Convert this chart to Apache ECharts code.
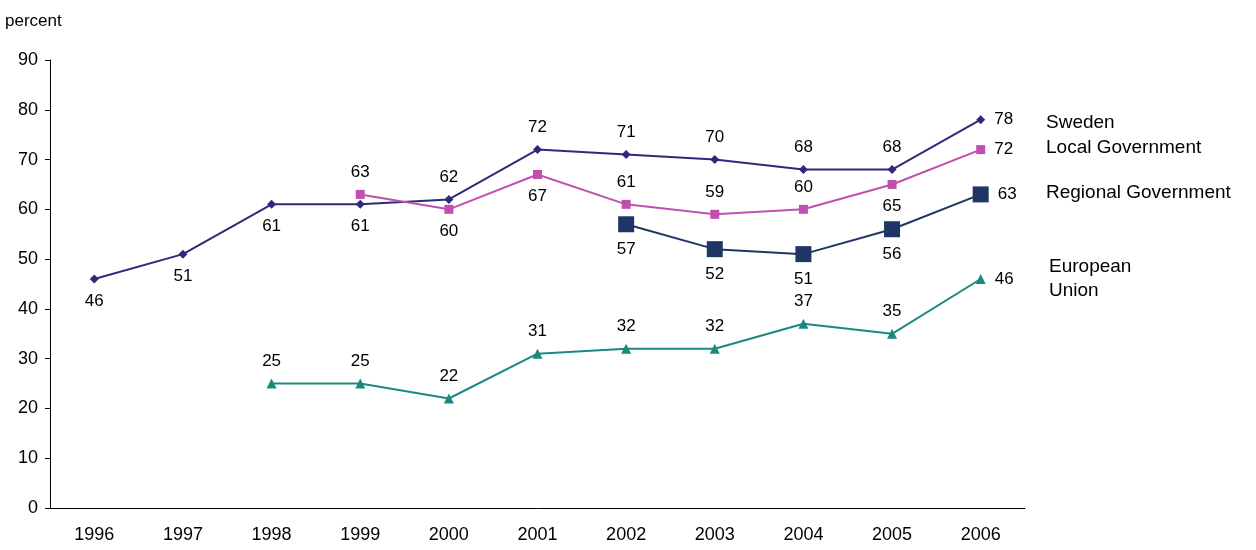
<!DOCTYPE html>
<html><head><meta charset="utf-8">
<script src="https://cdn.jsdelivr.net/npm/echarts@6/dist/echarts.min.js"></script>
<style>html,body{margin:0;background:#fff}#c{width:1256px;height:550px}</style>
</head><body><div id="c"></div>
<script>
var years = ['1996','1997','1998','1999','2000','2001','2002','2003','2004','2005','2006'];
var sweden = [46, 51, 61, 61, 62, 72, 71, 70, 68, 68, 78];
var local = [null, null, null, 63, 60, 67, 61, 59, 60, 65, 72];
var regional = [null, null, null, null, null, null, 57, 52, 51, 56, 63];
var eu = [null, null, 25, 25, 22, 31, 32, 32, 37, 35, 46];

var swedenPos = ['bottom','bottom','bottom','bottom','top','top','top','top','top','top','right'];
var localPos = [null,null,null,'top','bottom','bottom','top','top','top','bottom','right'];
var regionalPos = [null,null,null,null,null,null,'bottom','bottom','bottom','bottom','right'];
var euPos = [null,null,'top','top','top','top','top','top','top','top','right'];

function mk(vals, pos) {
    return vals.map(function (v, i) {
        return v == null ? null : {value: v, label: {position: pos[i]}};
    });
}

var myChart = echarts.init(document.getElementById('c'));
var FONT = 'Liberation Sans, Arial';
var txt = {color: '#000', fontSize: 17, fontFamily: FONT, distance: 9};

function line(name, vals, pos, color, symbol, size) {
    return {
        name: name, type: 'line', data: mk(vals, pos), symbol: symbol, symbolSize: size,
        lineStyle: {color: color, width: 2}, itemStyle: {color: color},
        label: Object.assign({show: true}, txt), animation: false
    };
}

myChart.setOption({
    grid: {left: 50, right: 231, top: 60, bottom: 42},
    xAxis: {
        type: 'category', data: years, boundaryGap: true,
        axisLine: {lineStyle: {color: '#000'}}, axisTick: {show: false},
        axisLabel: {color: '#000', fontSize: 18, margin: 18, fontFamily: FONT}
    },
    yAxis: {
        type: 'value', min: 0, max: 90, interval: 10,
        name: 'percent', nameLocation: 'end', nameGap: 30,
        nameTextStyle: {color: '#000', fontSize: 17, align: 'left', padding: [0, 0, 0, -45], fontFamily: FONT},
        axisLine: {show: true, lineStyle: {color: '#000'}}, axisTick: {show: true, length: 5},
        splitLine: {show: false},
        axisLabel: {color: '#000', fontSize: 18, margin: 12, fontFamily: FONT}
    },
    series: [
        line('Sweden', sweden, swedenPos, '#2e2a7a', 'diamond', 9),
        line('Local Government', local, localPos, '#c050b0', 'rect', 9),
        line('Regional Government', regional, regionalPos, '#1f3566', 'rect', 16),
        line('European Union', eu, euPos, '#1a8a80', 'triangle', 10)
    ],
    graphic: [
        {type: 'text', left: 1046, top: 113, style: {text: 'Sweden', fontSize: 19, fill: '#000', fontFamily: FONT}},
        {type: 'text', left: 1046, top: 138, style: {text: 'Local Government', fontSize: 19, fill: '#000', fontFamily: FONT}},
        {type: 'text', left: 1046, top: 183, style: {text: 'Regional Government', fontSize: 19, fill: '#000', fontFamily: FONT}},
        {type: 'text', left: 1049, top: 255, style: {text: 'European\nUnion', fontSize: 19, lineHeight: 24, fill: '#000', fontFamily: FONT}}
    ]
});
</script></body></html>
